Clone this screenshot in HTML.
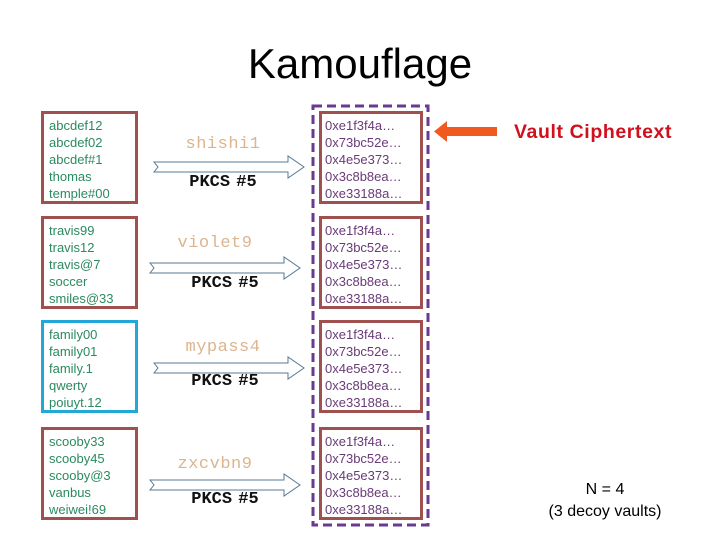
<!DOCTYPE html>
<html><head><style>
body{margin:0;width:720px;height:540px;background:#fff;position:relative;overflow:hidden;font-family:"Liberation Sans",sans-serif}
.t{position:absolute;left:0;width:720px;top:40px;text-align:center;font-size:42px;color:#000}
.lb,.rb{position:absolute;box-sizing:border-box;border:3px solid #a0504f;font-size:13px;line-height:17px}
.lb{left:41px;width:97px;height:93px;color:#2a8a60;padding:3px 0 0 5px}
.rb{left:319px;width:104px;height:93px;color:#6a3a78;padding:3px 0 0 3px}
.pw{position:absolute;width:150px;left:148px;text-align:center;font-family:"Liberation Mono",monospace;font-size:17px;color:#dcb48e;letter-spacing:0.5px}
.pk{position:absolute;width:150px;left:148px;text-align:center;font-family:"Liberation Mono",monospace;font-weight:bold;font-size:17px;color:#111;word-spacing:-4px}
svg{position:absolute;left:0;top:0}
</style></head><body>
<div class="t">Kamouflage</div>
<svg width="720" height="540">
<rect x="313" y="106" width="115" height="419" fill="none" stroke="#6a3a90" stroke-width="3" stroke-dasharray="9,5"/>
<g fill="#fff" stroke="#5a7890" stroke-width="1">
<path d="M154,162 L288,162 L288,156 L304,167 L288,178 L288,172 L154,172 L158,167 Z"/>
<path d="M150,263 L284,263 L284,257 L300,268 L284,279 L284,273 L150,273 L154,268 Z"/>
<path d="M154,363 L288,363 L288,357 L304,368 L288,379 L288,373 L154,373 L158,368 Z"/>
<path d="M150,480 L284,480 L284,474 L300,485 L284,496 L284,490 L150,490 L154,485 Z"/>
</g>
<rect x="446" y="127" width="51" height="9" fill="#f05a20"/>
<path d="M434,131.5 L447,121 L447,142 Z" fill="#f05a20"/>
</svg>
<div class="lb" style="top:111px">abcdef12<br>abcdef02<br>abcdef#1<br>thomas<br>temple#00</div>
<div class="lb" style="top:216px">travis99<br>travis12<br>travis@7<br>soccer<br>smiles@33</div>
<div class="lb" style="top:320px;border-color:#22a8d8">family00<br>family01<br>family.1<br>qwerty<br>poiuyt.12</div>
<div class="lb" style="top:427px">scooby33<br>scooby45<br>scooby@3<br>vanbus<br>weiwei!69</div>
<div class="rb" style="top:111px">0xe1f3f4a…<br>0x73bc52e…<br>0x4e5e373…<br>0x3c8b8ea…<br>0xe33188a…</div>
<div class="rb" style="top:216px">0xe1f3f4a…<br>0x73bc52e…<br>0x4e5e373…<br>0x3c8b8ea…<br>0xe33188a…</div>
<div class="rb" style="top:320px">0xe1f3f4a…<br>0x73bc52e…<br>0x4e5e373…<br>0x3c8b8ea…<br>0xe33188a…</div>
<div class="rb" style="top:427px">0xe1f3f4a…<br>0x73bc52e…<br>0x4e5e373…<br>0x3c8b8ea…<br>0xe33188a…</div>
<div class="pw" style="top:135px">shishi1</div>
<div class="pk" style="top:173px">PKCS #5</div>
<div class="pw" style="top:234px;left:140px">violet9</div>
<div class="pk" style="top:274px;left:150px">PKCS #5</div>
<div class="pw" style="top:338px">mypass4</div>
<div class="pk" style="top:372px;left:150px">PKCS #5</div>
<div class="pw" style="top:455px;left:140px">zxcvbn9</div>
<div class="pk" style="top:490px;left:150px">PKCS #5</div>
<div style="position:absolute;left:514px;top:121px;font-size:19.5px;font-weight:bold;color:#d0101c;letter-spacing:0.6px">Vault Ciphertext</div>
<div style="position:absolute;left:530px;top:479px;width:150px;text-align:center;font-size:16px;line-height:22px;color:#000">N = 4<br>(3 decoy vaults)</div>
</body></html>
